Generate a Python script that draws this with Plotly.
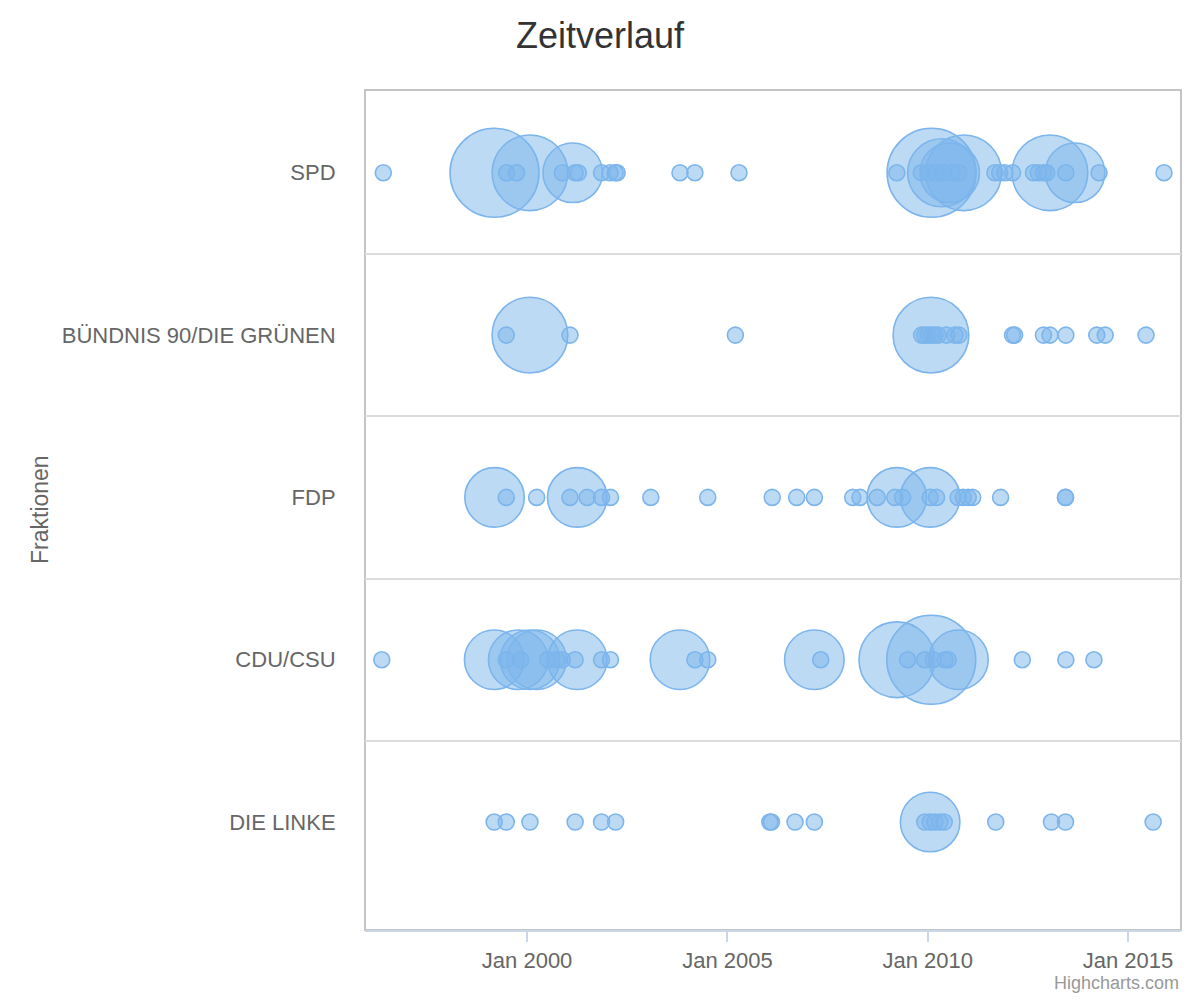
import math
import plotly.graph_objects as go

# ---------------- data ----------------
categories = ["SPD", "BÜNDNIS 90/DIE GRÜNEN", "FDP", "CDU/CSU", "DIE LINKE"]

spd_dates = ["1996-05-30", "1999-03-10", "1999-06-28", "1999-09-27", "2000-01-27",
             "2001-02-20", "2000-11-17", "2001-03-14", "2001-04-12", "2001-11-10",
             "2002-01-26", "2002-03-14", "2002-04-01", "2003-10-26", "2004-03-10",
             "2005-04-16", "2009-03-25", "2010-02-05", "2010-05-08", "2010-07-20",
             "2010-11-25", "2009-11-03", "2010-01-08", "2010-03-14", "2010-05-19",
             "2010-08-08", "2010-10-12", "2011-09-05", "2011-10-19", "2011-12-05",
             "2012-02-13", "2013-01-19", "2012-08-22", "2012-10-04", "2012-11-21",
             "2012-12-20", "2013-06-13", "2013-09-05", "2014-04-12", "2015-11-25"]
spd_counts = [1, 8, 1, 1, 6,
              4, 1, 1, 1, 1,
              1, 1, 1, 1, 1,
              1, 1, 8, 5, 4,
              6, 1, 1, 1, 1,
              1, 1, 1, 1, 1,
              1, 6, 1, 1, 1,
              1, 1, 4, 1, 1]

gruene_dates = ["1999-06-25", "2000-01-27", "2001-01-26", "2005-03-14", "2010-01-30",
                "2009-11-06", "2009-12-05", "2010-01-04", "2010-02-06", "2010-03-07",
                "2010-04-05", "2010-06-21", "2010-09-06", "2010-10-12", "2012-02-13",
                "2012-03-03", "2012-11-21", "2013-01-19", "2013-06-13", "2014-03-22",
                "2014-06-07", "2015-06-14"]
gruene_counts = [1, 6, 1, 1, 6,
                 1, 1, 1, 1, 1,
                 1, 1, 1, 1, 1,
                 1, 1, 1, 1, 1,
                 1, 1]

fdp_dates = ["1999-03-10", "1999-06-25", "2000-03-28", "2001-04-02", "2001-01-26",
             "2001-07-02", "2001-11-10", "2002-01-30", "2003-02-02", "2004-07-05",
             "2006-02-13", "2006-09-24", "2007-03-04", "2008-02-17", "2008-04-23",
             "2008-09-27", "2009-03-25", "2009-03-07", "2009-05-16", "2010-01-23",
             "2010-01-23", "2010-03-22", "2010-10-05", "2010-11-21", "2011-01-05",
             "2011-02-14", "2011-10-27", "2013-06-10", "2013-06-10"]
fdp_counts = [4, 1, 1, 4, 1,
              1, 1, 1, 1, 1,
              1, 1, 1, 1, 1,
              1, 4, 1, 1, 4,
              1, 1, 1, 1, 1,
              1, 1, 1, 1]

cdu_dates = ["1996-05-16", "1999-03-07", "1999-10-12", "2000-01-27", "2000-03-28",
             "1999-06-25", "1999-11-03", "2000-07-08", "2000-09-27", "2000-11-17",
             "2001-03-14", "2001-04-02", "2001-11-10", "2002-01-30", "2003-10-26",
             "2004-03-10", "2004-07-05", "2007-03-04", "2007-05-01", "2009-03-25",
             "2010-02-02", "2010-10-08", "2009-07-02", "2009-12-05", "2010-02-20",
             "2010-06-07", "2010-07-06", "2012-05-12", "2013-06-13", "2014-02-24"]
cdu_counts = [1, 4, 4, 4, 4,
              1, 1, 1, 1, 1,
              1, 4, 1, 1, 4,
              1, 1, 4, 1, 6,
              8, 4, 1, 1, 1,
              1, 1, 1, 1, 1]

linke_dates = ["1999-03-07", "1999-06-25", "2000-01-27", "2001-03-14", "2001-11-10",
               "2002-03-18", "2006-01-22", "2006-02-06", "2006-09-09", "2007-03-04",
               "2010-01-23", "2009-12-05", "2010-01-23", "2010-03-07", "2010-04-23",
               "2010-05-31", "2011-09-13", "2013-02-02", "2013-06-10", "2015-08-18"]
linke_counts = [1, 1, 1, 1, 1,
                1, 1, 1, 1, 1,
                4, 1, 1, 1, 1,
                1, 1, 1, 1, 1]

x_tick_vals = ["2000-01-01", "2005-01-01", "2010-01-01", "2015-01-01"]
x_tick_text = ["Jan 2000", "Jan 2005", "Jan 2010", "Jan 2015"]

series = [
    (spd_dates, spd_counts),
    (gruene_dates, gruene_counts),
    (fdp_dates, fdp_counts),
    (cdu_dates, cdu_counts),
    (linke_dates, linke_counts),
]

# ---------------- bubble size scale (area based, like Highcharts) ----------------
all_counts = [c for _, cs in series for c in cs]
z_min, z_max = min(all_counts), max(all_counts)
D_MIN, D_MAX = 16.0, 89.0


def diameter(z):
    pos = (z - z_min) / (z_max - z_min)
    return math.sqrt(D_MIN ** 2 + pos * (D_MAX ** 2 - D_MIN ** 2))


FONT = "Liberation Sans, Arial, Helvetica, sans-serif"
BLUE = "rgb(124,181,236)"
FILL = "rgba(124,181,236,0.5)"

# page body has an 8px margin -> figure is 1192x992 so the plot lands where the reference has it
W, H = 1192, 992
OFF = 8

fig = go.Figure()
for idx, (cat, (dates, counts)) in enumerate(zip(categories, series)):
    order = sorted(range(len(dates)), key=lambda i: -counts[i])
    xs = [dates[i] for i in order]
    zs = [counts[i] for i in order]
    fig.add_trace(go.Scatter(
        x=xs,
        y=[idx] * len(xs),
        mode="markers",
        name=cat,
        showlegend=False,
        customdata=zs,
        hovertemplate=cat + "<br>%{x}<br>Anzahl: %{customdata}<extra></extra>",
        marker=dict(
            size=[diameter(z) for z in zs],
            sizemode="diameter",
            color=FILL,
            opacity=1,
            line=dict(color=BLUE, width=1.6),
        ),
    ))

fig.update_layout(
    width=W,
    height=H,
    paper_bgcolor="white",
    plot_bgcolor="white",
    margin=dict(l=365 - OFF, r=W - (1181 - OFF), t=90 - OFF, b=H - (930 - OFF), autoexpand=False),
    font=dict(family=FONT, color="#666666", size=22),
    title=dict(
        text="Zeitverlauf",
        x=(600 - OFF) / W, xref="container", xanchor="center",
        y=1 - (35 - OFF) / H, yref="container", yanchor="middle",
        font=dict(family=FONT, size=36, color="#333333"),
    ),
    xaxis=dict(
        type="date",
        range=["1995-12-15", "2016-04-28"],
        tickvals=x_tick_vals,
        ticktext=x_tick_text,
        ticks="outside",
        ticklen=10,
        tickwidth=2,
        tickcolor="#ccd6eb",
        showline=True,
        linecolor="#ccd6eb",
        linewidth=2,
        showgrid=False,
        zeroline=False,
        tickfont=dict(size=22, color="#666666"),
        fixedrange=True,
    ),
    yaxis=dict(
        range=[4.665, -0.51],
        tickvals=list(range(len(categories))),
        ticktext=categories,
        ticks="outside",
        ticklen=24,
        tickcolor="rgba(0,0,0,0)",
        showgrid=False,
        zeroline=False,
        showline=False,
        tickfont=dict(size=22, color="#666666"),
        minor=dict(
            tickvals=[i + 0.5 for i in range(len(categories) - 1)],
            showgrid=True,
            gridcolor="#dcdcdc",
            gridwidth=2,
            ticks="",
        ),
        fixedrange=True,
    ),
    shapes=[dict(
        type="rect", xref="paper", yref="paper", x0=0, x1=1, y0=0, y1=1,
        line=dict(color="#c4c4c4", width=2), fillcolor="rgba(0,0,0,0)",
        layer="below",
    )],
    annotations=[
        dict(
            text="Fraktionen", textangle=-90,
            xref="paper", yref="paper",
            x=(40 - 365) / 816, y=0.5,
            xanchor="center", yanchor="middle",
            showarrow=False,
            font=dict(family=FONT, size=23, color="#666666"),
        ),
        dict(
            text="Highcharts.com",
            xref="paper", yref="paper",
            x=1.0, y=-(983 - 930) / 840,
            xanchor="right", yanchor="middle",
            showarrow=False,
            font=dict(family=FONT, size=18, color="#999999"),
        ),
    ],
)

fig.write_html("out.html")
